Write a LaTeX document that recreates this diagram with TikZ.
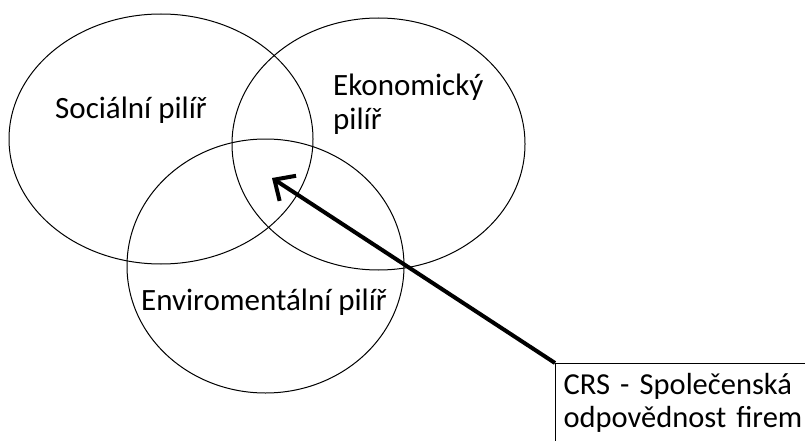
\documentclass[tikz,border=0pt]{standalone}
\usepackage{fontspec}
\setmainfont{Carlito}
\usetikzlibrary{arrows.meta,shapes.geometric}

\begin{document}
\begin{tikzpicture}[
  x=1pt,
  y=-1pt,
  line join=round,
  pillar/.style={draw=black,ellipse,line width=1pt,inner sep=0pt},
  pillartext/.style={font=\fontsize{31}{33}\selectfont,inner sep=0pt,anchor=base west,align=left},
  crsbox/.style={draw=black,line width=1.2pt,anchor=north west,align=left,
    font=\fontsize{30.5}{33}\selectfont,text width=262pt,text depth=60pt,
    inner xsep=8pt,inner ysep=10pt},
  pointer/.style={draw=black,line width=4pt,-{Straight Barb[length=16pt,width=30pt]}}
]
  % Page frame, the callout box runs off its right and bottom edges.
  \useasboundingbox (0,0) rectangle (805,441);
  \clip (0,0) rectangle (805,441);

  % The three pillars.
  \node[pillar,minimum width=304pt,minimum height=250pt] (social) at (161,139) {};
  \node[pillar,minimum width=293pt,minimum height=252pt] (economic) at (378.5,144) {};
  \node[pillar,minimum width=277pt,minimum height=254pt] (environment) at (265.5,266) {};

  % Multi-line labels sit on the baseline of their last line.
  \node[pillartext] (socialtext) at (55,118) {Sociální pilíř};
  \node[pillartext] (economictext) at (333,129) {Ekonomický\\pilíř};
  \node[pillartext] (environmenttext) at (141,310) {Enviromentální pilíř};

  % Callout pointing into the common overlap.
  \node[crsbox] (crs) at (555,363) {CRS - Společenská\\odpovědnost firem};
  \coordinate (overlap) at (272,178);
  \draw[pointer] (crs.north west) -- (overlap);
\end{tikzpicture}
\end{document}
